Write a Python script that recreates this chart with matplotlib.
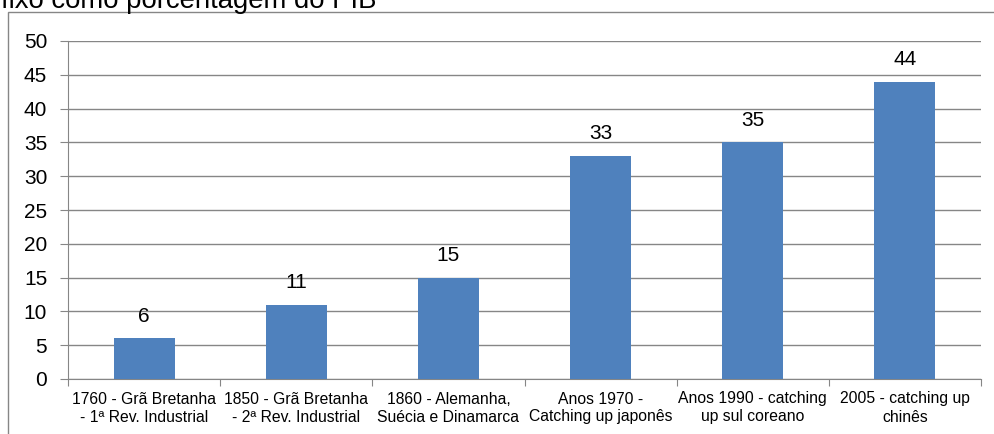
import matplotlib
matplotlib.use("Agg")
import matplotlib.pyplot as plt
from matplotlib.patches import Rectangle

categories = [
    "1760 - Grã Bretanha\n- 1ª Rev. Industrial",
    "1850 - Grã Bretanha\n- 2ª Rev. Industrial",
    "1860 - Alemanha,\nSuécia e Dinamarca",
    "Anos 1970 -\nCatching up japonês",
    "Anos 1990 - catching\nup sul coreano",
    "2005 - catching up\nchinês",
]
values = [6, 11, 15, 33, 35, 44]
yticks = [0, 5, 10, 15, 20, 25, 30, 35, 40, 45, 50]
title_text = "fixo como porcentagem do PIB"

plt.rcParams['font.family'] = ['Liberation Sans', 'DejaVu Sans']

W, H = 994, 434
fig = plt.figure(figsize=(W / 100, H / 100), dpi=100)

# outer frame
fig.patches.append(Rectangle((8 / W, -0.01), 1.02, 1 - 12 / H + 0.01, transform=fig.transFigure,
                             fill=False, edgecolor='#868686', linewidth=1.0))
fig.text(1 / W, 1 - 8 / H, title_text, fontsize=19.8, ha='left', va='baseline', color='black')

left, right = 68 / W, 981 / W
bottom, top = 1 - 379 / H, 1 - 41 / H
ax = fig.add_axes([left, bottom, right - left, top - bottom])

x = list(range(len(values)))
ax.bar(x, values, width=0.40, color='#4F81BD', zorder=3)
for xi, v in zip(x, values):
    ax.annotate(str(v), (xi, v), xytext=(0, 16), textcoords='offset points',
                ha='center', va='center', fontsize=15, color='black')

ax.set_xlim(-0.5, len(values) - 0.5)
ax.set_ylim(0, 50)
ax.set_yticks(yticks)
ax.set_yticklabels([str(t) for t in yticks], fontsize=15)
ax.yaxis.grid(True, color='#868686', linewidth=1.0, zorder=0)
ax.set_axisbelow(True)

ax.set_xticks([i - 0.5 for i in range(len(values) + 1)])
ax.set_xticklabels([])
ax.set_xticks(x, minor=True)
ax.set_xticklabels(categories, minor=True, fontsize=11.3, linespacing=1.25)
ax.tick_params(axis='x', which='minor', length=0, pad=9)
ax.tick_params(axis='x', which='major', length=5, color='#868686', direction='out')
ax.tick_params(axis='y', length=6, color='#868686', direction='out', pad=9)

for s in ['top', 'right']:
    ax.spines[s].set_visible(False)
ax.spines['left'].set_color('#868686')
ax.spines['bottom'].set_color('#868686')

fig.savefig("out.png", dpi=100)
